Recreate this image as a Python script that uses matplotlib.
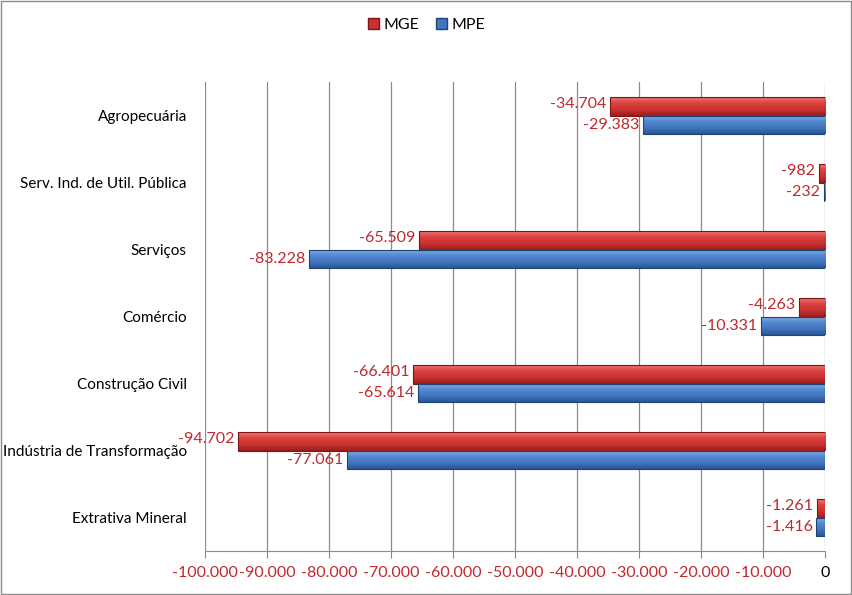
import matplotlib.pyplot as plt
import matplotlib.patches as patches
import numpy as np
from matplotlib.colors import LinearSegmentedColormap
from matplotlib.ticker import FuncFormatter

plt.rcParams['font.family'] = ['Lato', 'DejaVu Sans']

categories = ["Agropecuária", "Serv. Ind. de Util. Pública", "Serviços", "Comércio",
              "Construção Civil", "Indústria de Transformação", "Extrativa Mineral"]
mge = [-34704, -982, -65509, -4263, -66401, -94702, -1261]
mpe = [-29383, -232, -83228, -10331, -65614, -77061, -1416]
xticks = [-100000, -90000, -80000, -70000, -60000, -50000, -40000, -30000, -20000, -10000, 0]

red_cm = LinearSegmentedColormap.from_list("r", ["#ee7472", "#d9403e", "#c93230", "#9b1c1c"])
blue_cm = LinearSegmentedColormap.from_list("b", ["#86b2e6", "#5289d0", "#4276be", "#2a5597"])
lab_col = "#c0282d"


def fmt(v):
    s = "{:,.0f}".format(abs(v)).replace(",", ".")
    return ("-" if v < 0 else "") + s


fig = plt.figure(figsize=(8.53, 5.95), dpi=100)
ax = fig.add_axes([0.2403, 0.0739, 0.7269, 0.7881])

y = np.arange(len(categories))
h = 0.275
grad = np.linspace(0, 1, 64).reshape(-1, 1)

for vals, off, cm, ec in [(mge, -h / 2, red_cm, "#7d1515"), (mpe, h / 2, blue_cm, "#1f4377")]:
    bars = ax.barh(y + off, vals, height=h, color="none", edgecolor=ec, linewidth=0.8, zorder=3)
    for b in bars:
        x0, yb, w, hh = b.get_x(), b.get_y(), b.get_width(), b.get_height()
        im = ax.imshow(grad, cmap=cm, aspect="auto", extent=[x0, x0 + w, yb + hh, yb],
                       zorder=2, interpolation="bicubic")
        im.set_clip_path(b)

for i in range(len(categories)):
    ax.text(mge[i] - 600, y[i] - h / 2 - 0.03, fmt(mge[i]), ha="right", va="center",
            color=lab_col, fontsize=11.5, zorder=5)
    ax.text(mpe[i] - 600, y[i] + h / 2 + 0.01, fmt(mpe[i]), ha="right", va="center",
            color=lab_col, fontsize=11.5, zorder=5)

ax.set_xlim(-100000, 0)
ax.set_ylim(len(categories) - 0.5, -0.5)
ax.set_xticks(xticks)
ax.xaxis.set_major_formatter(FuncFormatter(lambda v, p: fmt(v)))
ax.set_yticks(y)
ax.set_yticklabels(categories, fontsize=11)
ax.tick_params(axis="y", length=0, pad=13)
ax.tick_params(axis="x", length=5, color="#888888", labelsize=11.5, pad=6)
for t in ax.get_xticklabels():
    t.set_color(lab_col)
ax.get_xticklabels()[-1].set_color("black")

ax.grid(axis="x", color="#8c8c8c", linewidth=0.9, zorder=0)
ax.set_axisbelow(True)
for s in ["top", "left", "right"]:
    ax.spines[s].set_visible(False)
ax.spines["bottom"].set_color("#8c8c8c")

handles = [patches.Patch(facecolor="#c93230", edgecolor="#7d1515", label="MGE"),
           patches.Patch(facecolor="#4276be", edgecolor="#1f4377", label="MPE")]
fig.legend(handles=handles, loc="center", bbox_to_anchor=(0.5, 0.958), ncol=2, frameon=False,
           fontsize=11.5, handlelength=0.7, handleheight=0.7, handletextpad=0.3, columnspacing=1.0)

fig.patches.append(patches.Rectangle((0.001, 0.001), 0.997, 0.997, transform=fig.transFigure,
                                     fill=False, edgecolor="#8c8c8c", linewidth=1))

fig.savefig("out.png", dpi=100)
